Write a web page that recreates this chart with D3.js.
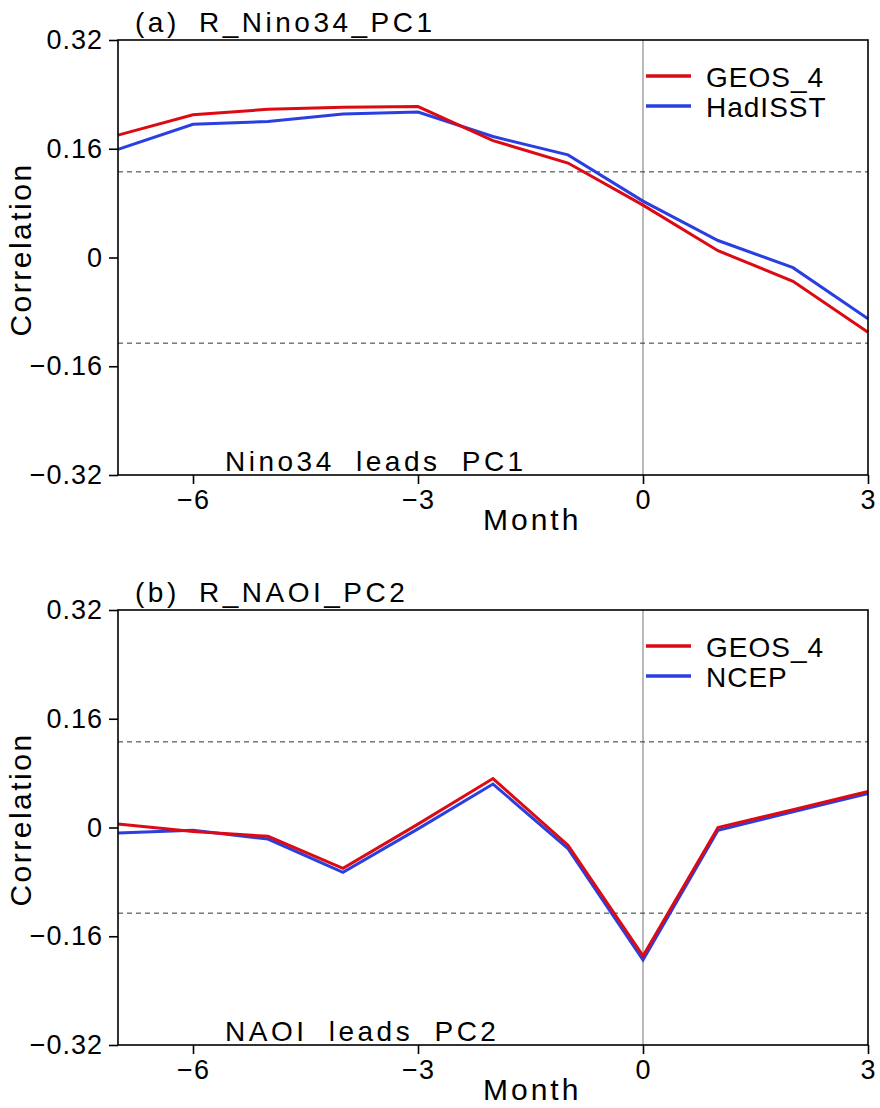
<!DOCTYPE html>
<html><head><meta charset="utf-8">
<script src="https://cdn.jsdelivr.net/npm/d3@7"></script>
<style>
body{margin:0;background:#fff;}
text{font-family:"Liberation Sans","DejaVu Sans",sans-serif;fill:#000;}
</style></head>
<body><svg id="c" width="880" height="1108"></svg>
<script>
const months = [-7,-6,-5,-4,-3,-2,-1,0,1,2,3];
const yTicks = [-0.32,-0.16,0,0.16,0.32];
const xTicks = [-6,-3,0,3];
const sigLevel = [0.126,-0.126];

// Panel (a)
const aGEOS = [0.180,0.210,0.218,0.221,0.222,0.172,0.139,0.077,0.010,-0.035,-0.110];
const aHad  = [0.159,0.196,0.200,0.211,0.214,0.178,0.151,0.083,0.025,-0.015,-0.090];
// Panel (b)
const bGEOS = [0.005,-0.006,-0.013,-0.060,0.005,0.072,-0.026,-0.189,0.000,0.026,0.053];
const bNCEP = [-0.008,-0.004,-0.017,-0.066,-0.002,0.064,-0.031,-0.195,-0.004,0.023,0.050];

const panels = [
  {title:"(a) R_Nino34_PC1", note:"Nino34 leads PC1", top:40, series:[
    {name:"GEOS_4", vals:aGEOS, color:"#dd0a14"},{name:"HadISST", vals:aHad, color:"#2a3fe0"}]},
  {title:"(b) R_NAOI_PC2", note:"NAOI leads PC2", top:610, series:[
    {name:"GEOS_4", vals:bGEOS, color:"#dd0a14"},{name:"NCEP", vals:bNCEP, color:"#2a3fe0"}]}
];

const svg = d3.select("#c");
const L = 118, R = 868, H = 435;
const fmtY = v => v===0 ? "0" : (v<0 ? "\u2212" : "") + Math.abs(v).toFixed(2);
const fmtX = v => (v<0 ? "\u2212" : "") + Math.abs(v);

panels.forEach(p=>{
  const g = svg.append("g");
  const x = d3.scaleLinear().domain([-7,3]).range([L,R]);
  const y = d3.scaleLinear().domain([-0.32,0.32]).range([p.top+H,p.top]);

  g.append("line").attr("x1",x(0)).attr("x2",x(0)).attr("y1",y(0.32)).attr("y2",y(-0.32))
    .attr("stroke","#777").attr("stroke-width",1);
  sigLevel.forEach(s=>{
    g.append("line").attr("x1",L).attr("x2",R).attr("y1",y(s)).attr("y2",y(s))
      .attr("stroke","#333").attr("stroke-width",1).attr("stroke-dasharray","5,4");
  });

  const line = d3.line().x((d,i)=>x(months[i])).y(d=>y(d));
  p.series.slice().reverse().forEach(s=>{
    g.append("path").datum(s.vals).attr("d",line).attr("fill","none")
      .attr("stroke",s.color).attr("stroke-width",3).attr("stroke-linejoin","miter");
  });

  g.append("rect").attr("x",L).attr("y",p.top).attr("width",R-L).attr("height",H)
    .attr("fill","none").attr("stroke","#000").attr("stroke-width",1.6);

  const ya = g.append("g").attr("transform",`translate(${L},0)`)
    .call(d3.axisLeft(y).tickValues(yTicks).tickFormat(fmtY).tickSize(9).tickPadding(6));
  const xa = g.append("g").attr("transform",`translate(0,${p.top+H})`)
    .call(d3.axisBottom(x).tickValues(xTicks).tickFormat(fmtX).tickSize(9).tickPadding(6));
  [ya,xa].forEach(a=>{
    a.select(".domain").remove();
    a.selectAll(".tick line").attr("stroke","#000").attr("stroke-width",1.6);
    a.selectAll(".tick text").attr("font-size",27).attr("fill","#000").attr("letter-spacing","1px");
  });

  g.append("text").attr("x",135).attr("y",p.top-8).attr("font-size",28)
    .attr("letter-spacing","3.5px").attr("word-spacing","8px").text(p.title);
  g.append("text").attr("x",225).attr("y",p.top+H-4).attr("font-size",28)
    .attr("letter-spacing","3.5px").attr("word-spacing","10px").text(p.note);
  g.append("text").attr("x",483).attr("y",p.top+H+55).attr("font-size",30)
    .attr("letter-spacing","3px").text("Month");
  g.append("text").attr("transform",`translate(31,${y(0)-8}) rotate(-90)`)
    .attr("text-anchor","middle").attr("font-size",30).attr("letter-spacing","2.5px").text("Correlation");

  p.series.forEach((s,i)=>{
    const ly = p.top + 36 + i*30;
    g.append("line").attr("x1",646).attr("x2",691).attr("y1",ly).attr("y2",ly)
      .attr("stroke",s.color).attr("stroke-width",3.5);
    g.append("text").attr("x",706).attr("y",ly+11).attr("font-size",28)
      .attr("letter-spacing","1px").text(s.name);
  });
});
</script></body></html>
